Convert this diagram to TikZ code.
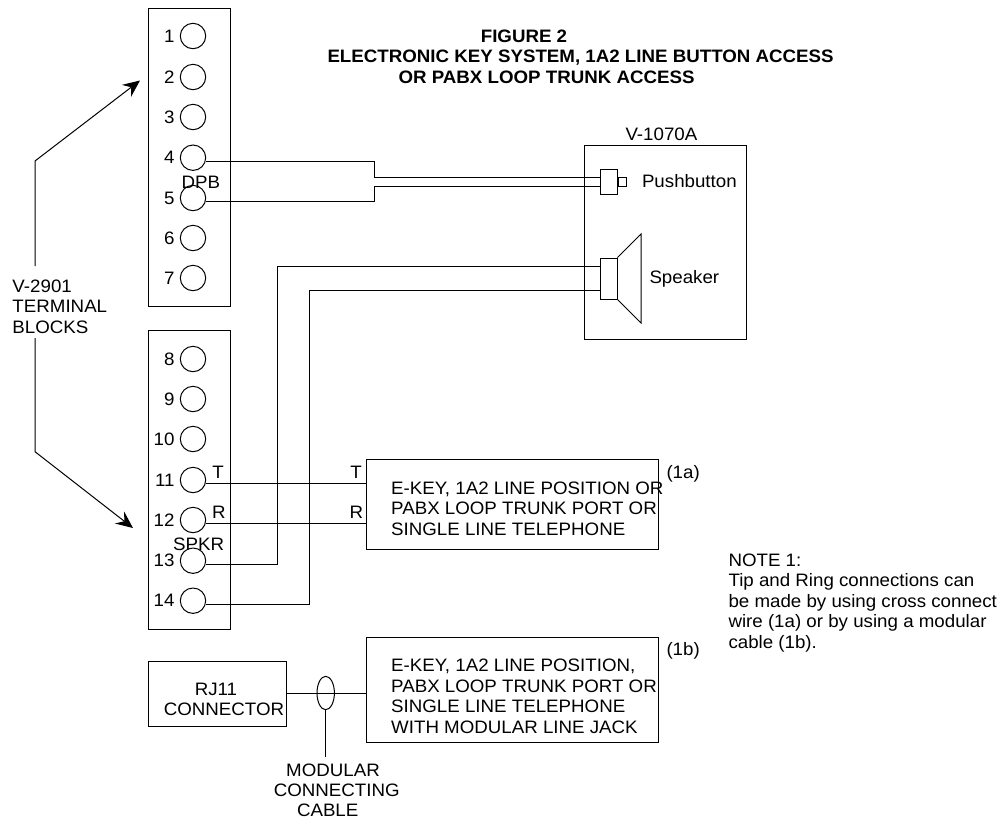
\documentclass[tikz,border=0pt]{standalone}
\usepackage{fontspec}
\setmainfont[FakeStretch=1.04]{Liberation Sans}
\usetikzlibrary{arrows.meta,shapes.geometric}

\tikzset{
	lbl/.style={anchor=base west,inner sep=0pt,font=\fontsize{18}{20.5}\selectfont,align=left},
	lblc/.style={lbl,anchor=base,align=center},
	numlbl/.style={lbl,anchor=base east},
	titlelbl/.style={lbl,font=\fontsize{18}{20.5}\selectfont\bfseries},
	termblock/.style={draw,minimum width=82pt,inner sep=0pt},
	terminal/.style={draw,circle,minimum size=25.4pt,inner sep=0pt},
	box/.style={draw,rectangle,inner sep=0pt},
	callout/.style={-{Stealth[length=17pt,width=15pt,inset=6pt]}}
}

\begin{document}
\begin{tikzpicture}[x=1pt,y=-1pt,line width=1pt]
	\useasboundingbox (0,0) rectangle (1002,823);

	% title
	\node[titlelbl,anchor=base] (titlea) at (524,42.7) {FIGURE 2};
	\node[titlelbl] (titleb) at (327,62.7) {ELECTRONIC KEY SYSTEM, 1A2 LINE BUTTON ACCESS};
	\node[titlelbl] (titlec) at (398,83) {OR PABX LOOP TRUNK ACCESS};

	% terminal blocks
	\node[termblock,minimum height=298pt] (blocka) at (189,157) {};
	\node[termblock,minimum height=299pt] (blockb) at (189,479.5) {};
	\foreach \n/\y in {1/36,2/77,3/117,4/157.7,5/198,6/238,7/278,8/359,9/399,10/439,11/480,12/520,13/560.7,14/600.7}{
		\node[terminal] (t\n) at (193,\y) {};
		\node[numlbl] (n\n) at (175,\y+6) {\n};
	}
	\node[lbl] (dpb) at (181,188) {DPB};
	\node[lbl] (spkr) at (172.7,550) {SPKR};
	\node[lblc] (tl) at (218,478) {T};
	\node[lblc] (rl) at (219,518) {R};

	% V-1070A
	\node[box,minimum width=162pt,minimum height=194pt] (v1070) at (665,242) {};
	\node[lbl] (v1070lbl) at (625,140) {V-1070A};
	\node[box,minimum width=17pt,minimum height=25pt] (pb) at (608.5,181.5) {};
	\node[box,minimum width=8.5pt,minimum height=9pt,anchor=west] (pbcap) at (pb.east) {};
	\node[lbl] (pblbl) at (641.5,187.7) {Pushbutton};
	\node[box,minimum width=17pt,minimum height=41pt] (spk) at (608.5,278.5) {};
	\coordinate (conetop) at (641,234);
	\coordinate (conebot) at (641,323);
	\draw (spk.north east) -- (conetop) -- (conebot) -- (spk.south east);
	\node[lbl] (spklbl) at (649,283) {Speaker};

	% line equipment
	\node[box,minimum width=292pt,minimum height=90pt] (ekeya) at (512,504) {};
	\node[lbl] (ekeyatxt) at (390.7,535) {E-KEY, 1A2 LINE POSITION OR\\PABX LOOP TRUNK PORT OR\\SINGLE LINE TELEPHONE};
	\node[lbl] (onea) at (666,478) {(1a)};
	\node[lblc] (tr) at (356,478) {T};
	\node[lblc] (rr) at (356.5,518) {R};
	\node[box,minimum width=292pt,minimum height=105pt] (ekeyb) at (512,689.5) {};
	\node[lbl] (ekeybtxt) at (390.7,733) {E-KEY, 1A2 LINE POSITION,\\PABX LOOP TRUNK PORT OR\\SINGLE LINE TELEPHONE\\WITH MODULAR LINE JACK};
	\node[lbl] (oneb) at (666,655) {(1b)};

	% RJ11
	\node[box,minimum width=138pt,minimum height=65pt] (rj) at (217,693.5) {};
	\node[lblc] (rjlbl) at (216,695.7) {RJ11};
	\node[lblc] (rjlblb) at (224,715.7) {CONNECTOR};
	\node[draw,ellipse,minimum width=17.4pt,minimum height=33.4pt,inner sep=0pt] (cable) at (325.7,693) {};
	\coordinate (cableend) at (325.7,757);
	\node[lblc] (modlbl) at (333,776) {MODULAR};
	\node[lblc] (modlblb) at (336.7,796) {CONNECTING};
	\node[lblc] (modlblc) at (327.7,816) {CABLE};

	% note
	\node[lbl] (note) at (728,648) {NOTE 1:\\Tip and Ring connections can\\be made by using cross connect\\wire (1a) or by using a modular\\cable (1b).};

	% wires
	\coordinate (jog4) at (374,177);
	\coordinate (jog5) at (374,186);
	\draw (t4.-17) -| (jog4) -- (pb.west |- jog4);
	\draw (t5.-14) -| (jog5) -- (pb.west |- jog5);
	\coordinate (jog13) at (277,266.7);
	\coordinate (jog14) at (309.5,290);
	\draw (t13.-15) -| (jog13) -- (spk.west |- jog13);
	\draw (t14.-18) -| (jog14) -- (spk.west |- jog14);
	\draw (t11.-17) -- (t11.-17 -| ekeya.west);
	\draw (t12.-17) -- (t12.-17 -| ekeya.west);
	\draw (rj.east |- cable.center) -- (cable.center -| ekeyb.west);
	\draw (cable.south) -- (cableend);

	% callouts
	\coordinate (bend) at (35,161);
	\coordinate (benda) at (35,266);
	\coordinate (bendb) at (35,338);
	\coordinate (bendc) at (35,451.7);
	\coordinate (tipa) at (140,80.5);
	\coordinate (tipb) at (133,528);
	\draw[callout] (benda) -- (bend) -- (tipa);
	\draw[callout] (bendb) -- (bendc) -- (tipb);

	\node[lbl] (vlbl) at (12,333) {V-2901\\TERMINAL\\BLOCKS};
\end{tikzpicture}
\end{document}
